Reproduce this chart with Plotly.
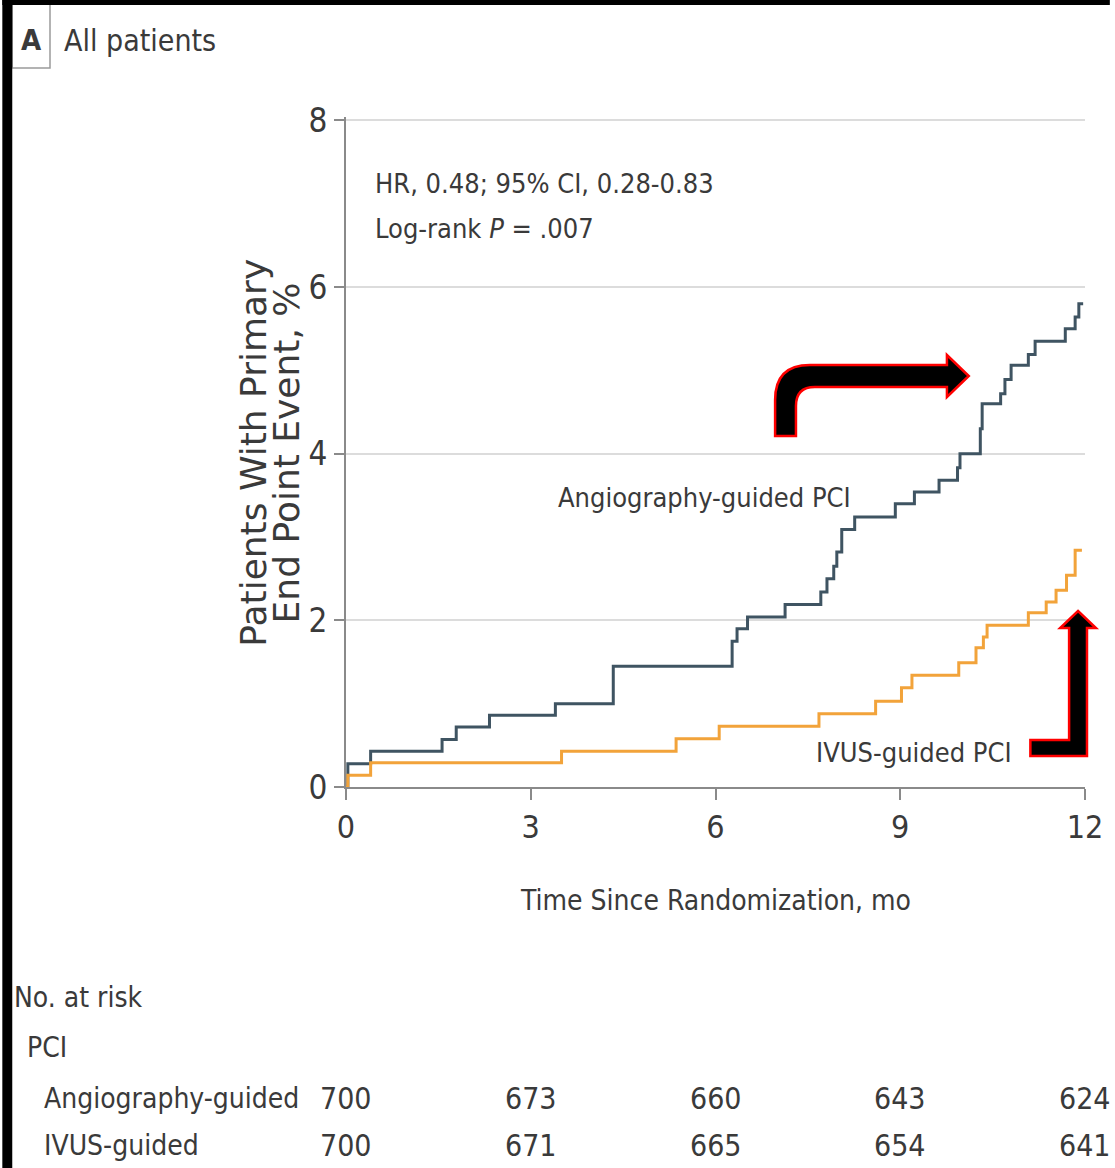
import plotly.graph_objects as go

# ---------------- data ----------------
angio_t = [0.0, 0.03, 0.40, 1.56, 1.79, 2.33, 3.40, 4.34, 6.27, 6.35, 6.52, 7.13, 7.71, 7.81, 7.92, 7.97,
           8.05, 8.26, 8.92, 9.23, 9.63, 9.93, 9.97, 10.30, 10.33, 10.63, 10.70, 10.80, 11.08, 11.19,
           11.68, 11.84, 11.90, 11.97]
angio_y = [0.0, 0.28, 0.43, 0.57, 0.72, 0.86, 1.00, 1.45, 1.75, 1.90, 2.04, 2.19, 2.34, 2.50, 2.65, 2.82,
           3.09, 3.24, 3.40, 3.54, 3.68, 3.83, 4.00, 4.30, 4.60, 4.72, 4.89, 5.06, 5.19, 5.35,
           5.50, 5.64, 5.80, 5.80]

ivus_t = [0.0, 0.03, 0.40, 3.50, 5.36, 6.06, 7.68, 8.60, 9.02, 9.19, 9.95, 10.23, 10.35, 10.41,
          11.08, 11.37, 11.53, 11.70, 11.84, 11.95]
ivus_y = [0.0, 0.14, 0.29, 0.43, 0.58, 0.73, 0.88, 1.03, 1.19, 1.34, 1.49, 1.67, 1.80, 1.94,
          2.09, 2.22, 2.36, 2.54, 2.84, 2.84]

x_ticks = [0, 3, 6, 9, 12]
y_ticks = [0, 2, 4, 6, 8]
risk_times = [0, 3, 6, 9, 12]
risk_angio = [700, 673, 660, 643, 624]
risk_ivus = [700, 671, 665, 654, 641]

# ---------------- styling ----------------
W, H = 1115, 1168
L, R, T, B = 346, 25, 117, 381
PW, PH = W - L - R, H - T - B
FONT = "Liberation Sans Narrow, DejaVu Sans Condensed, Arial Narrow, sans-serif"
TXT = "#3a3a3a"
ANGIO_C = "#3f5462"
IVUS_C = "#f2a33a"


def px(X):
    return (X - L) / PW


def py(Y):
    return (H - B - Y) / PH


def P(X, Y):
    return f"{px(X):.5f},{py(Y):.5f}"


fig = go.Figure()
fig.add_trace(go.Scatter(x=angio_t, y=angio_y, mode="lines", line=dict(color=ANGIO_C, width=3, shape="hv"),
                         name="Angiography-guided PCI", showlegend=False))
fig.add_trace(go.Scatter(x=ivus_t, y=ivus_y, mode="lines", line=dict(color=IVUS_C, width=3, shape="hv"),
                         name="IVUS-guided PCI", showlegend=False))

fig.update_layout(
    width=W, height=H,
    margin=dict(l=L, r=R, t=T, b=B, pad=0),
    paper_bgcolor="white", plot_bgcolor="white",
    font=dict(family=FONT, color=TXT, size=28),
    xaxis=dict(range=[0, 12], tickvals=x_ticks, ticktext=[str(v) for v in x_ticks],
               showline=True, linecolor="#8a8a8a", linewidth=2, ticks="outside", ticklen=11,
               tickwidth=2, tickcolor="#8a8a8a", showgrid=False, zeroline=False,
               tickfont=dict(size=32, family=FONT, color=TXT)),
    yaxis=dict(range=[0, 8.04], tickvals=y_ticks, ticktext=[str(v) for v in y_ticks],
               showline=True, linecolor="#8a8a8a", linewidth=2, ticks="outside", ticklen=10,
               tickwidth=2, tickcolor="#8a8a8a", showgrid=True, gridcolor="#dcdcdc", gridwidth=2,
               zeroline=False, tickfont=dict(size=33, family=FONT, color=TXT)),
)

ann = []
# axis titles
ann.append(dict(text="Time Since Randomization, mo", xref="paper", yref="paper", x=px(718), y=py(900),
                showarrow=False, font=dict(size=28), xanchor="center", yanchor="middle"))
YT_FONT = dict(size=36, family="DejaVu Sans, Verdana, sans-serif", color=TXT)
ann.append(dict(text="Patients With Primary", xref="paper", yref="paper",
                x=px(252), y=py(453), showarrow=False, textangle=-90,
                font=YT_FONT, xanchor="center", yanchor="middle"))
ann.append(dict(text="End Point Event, %", xref="paper", yref="paper",
                x=px(286), y=py(453), showarrow=False, textangle=-90,
                font=YT_FONT, xanchor="center", yanchor="middle"))
# stats
ann.append(dict(text="HR, 0.48; 95% CI, 0.28-0.83", xref="paper", yref="paper", x=px(373), y=py(183),
                showarrow=False, font=dict(size=27), xanchor="left", yanchor="middle"))
ann.append(dict(text="Log-rank <i>P</i> = .007", xref="paper", yref="paper", x=px(373), y=py(228),
                showarrow=False, font=dict(size=27), xanchor="left", yanchor="middle"))
# curve labels
ann.append(dict(text="Angiography-guided PCI", xref="paper", yref="paper", x=px(856), y=py(497),
                showarrow=False, font=dict(size=27), xanchor="right", yanchor="middle"))
ann.append(dict(text="IVUS-guided PCI", xref="paper", yref="paper", x=px(1019), y=py(752),
                showarrow=False, font=dict(size=27), xanchor="right", yanchor="middle"))
# panel title
ann.append(dict(text="<b>A</b>", xref="paper", yref="paper", x=px(29), y=py(40),
                showarrow=False, font=dict(size=29), xanchor="center", yanchor="middle"))
ann.append(dict(text="All patients", xref="paper", yref="paper", x=px(60), y=py(40),
                showarrow=False, font=dict(size=30), xanchor="left", yanchor="middle"))
# risk table
ann.append(dict(text="No. at risk", xref="paper", yref="paper", x=px(10), y=py(997),
                showarrow=False, font=dict(size=28), xanchor="left", yanchor="middle"))
ann.append(dict(text="PCI", xref="paper", yref="paper", x=px(23), y=py(1047),
                showarrow=False, font=dict(size=28), xanchor="left", yanchor="middle"))
ann.append(dict(text="Angiography-guided", xref="paper", yref="paper", x=px(40), y=py(1098),
                showarrow=False, font=dict(size=28), xanchor="left", yanchor="middle"))
ann.append(dict(text="IVUS-guided", xref="paper", yref="paper", x=px(40), y=py(1145),
                showarrow=False, font=dict(size=28), xanchor="left", yanchor="middle"))
for t, a, b in zip(risk_times, risk_angio, risk_ivus):
    ann.append(dict(text=str(a), xref="x", yref="paper", x=t, y=py(1098), showarrow=False,
                    font=dict(size=30), xanchor="center", yanchor="middle"))
    ann.append(dict(text=str(b), xref="x", yref="paper", x=t, y=py(1145), showarrow=False,
                    font=dict(size=30), xanchor="center", yanchor="middle"))
fig.update_layout(annotations=ann)

shapes = []
# bent arrow pointing at angiography curve
arrow1 = (f"M {P(778,436)} L {P(778,400)} Q {P(778,365)} {P(813,365)} L {P(951,365)} L {P(951,355)} "
          f"L {P(973,376)} L {P(951,397)} L {P(951,387)} L {P(818,387)} Q {P(799,387)} {P(799,406)} "
          f"L {P(799,436)} Z")
shapes.append(dict(type="path", xref="paper", yref="paper", path=arrow1, fillcolor="black",
                   line=dict(color="#ff0000", width=2.5), layer="above"))
# bent arrow pointing at IVUS curve
arrow2 = (f"M {P(1035,740)} L {P(1074,740)} L {P(1074,628)} L {P(1065,628)} L {P(1083,611)} "
          f"L {P(1101,628)} L {P(1092,628)} L {P(1092,756)} L {P(1035,756)} Z")
shapes.append(dict(type="path", xref="paper", yref="paper", path=arrow2, fillcolor="black",
                   line=dict(color="#ff0000", width=2.5), layer="above"))
# panel letter box
shapes.append(dict(type="rect", xref="paper", yref="paper", x0=px(10), x1=px(48), y0=py(68), y1=py(4),
                   line=dict(color="#9a9a9a", width=1.5), fillcolor="rgba(0,0,0,0)"))
# black border strips (top and left)
shapes.append(dict(type="rect", xref="paper", yref="paper", x0=px(0), x1=px(W), y0=py(5), y1=py(0),
                   line=dict(width=0), fillcolor="black"))
shapes.append(dict(type="rect", xref="paper", yref="paper", x0=px(0), x1=px(10), y0=py(H), y1=py(0),
                   line=dict(width=0), fillcolor="black"))
fig.update_layout(shapes=shapes)

fig.write_html("out.html", config={"displayModeBar": False},
               post_script="document.body.style.margin='0';document.body.style.overflow='hidden';")
